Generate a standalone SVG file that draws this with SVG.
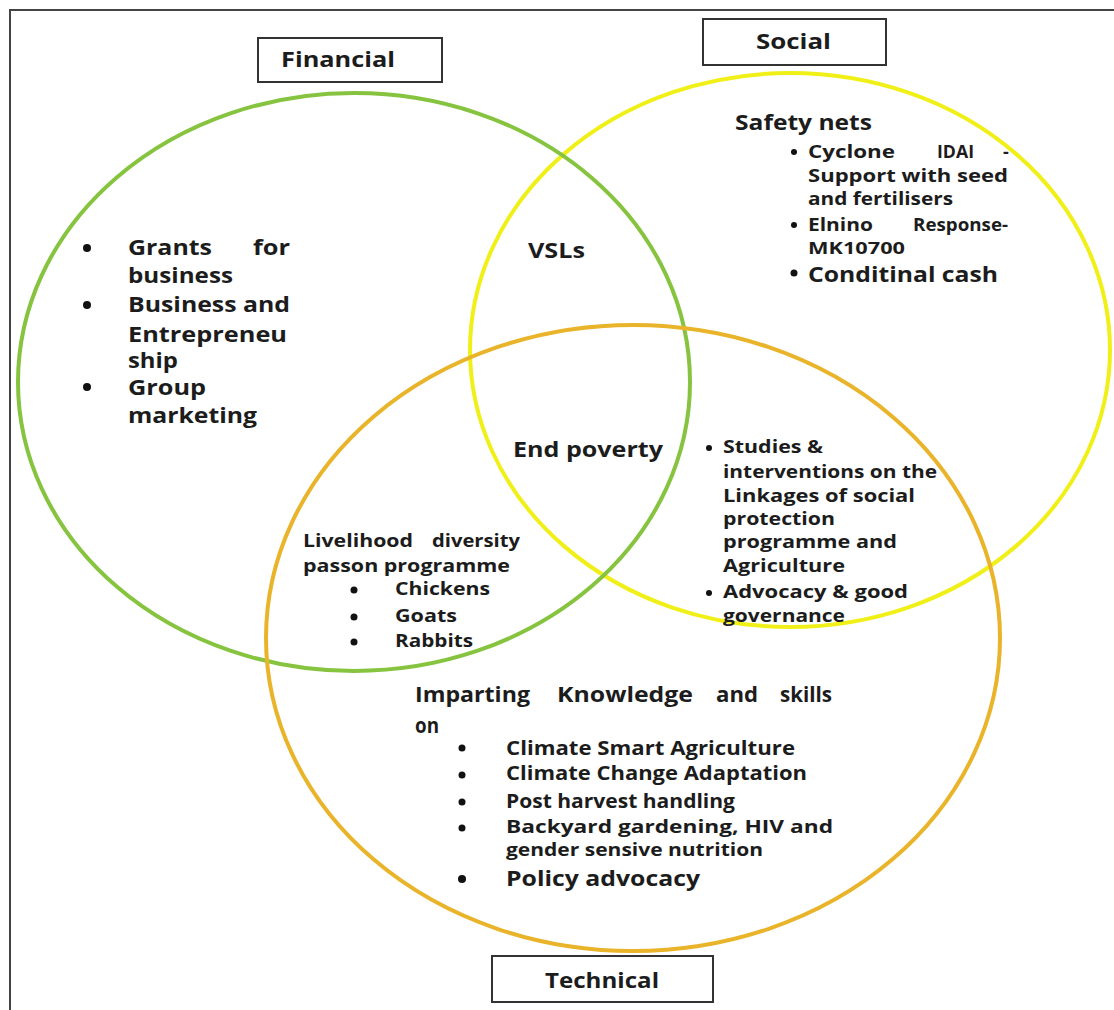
<svg xmlns="http://www.w3.org/2000/svg" width="1114" height="1010" viewBox="0 0 1114 1010">
<style>
.t{font-family:"Open Sans",Lato,"Liberation Sans",sans-serif;font-weight:bold;fill:#1c1c1c}
.b{fill:#111}
.s16{font-size:16px}
.s17{font-size:17px}
.s18{font-size:18px}
.s19{font-size:19px}
.s21{font-size:21px}
.s22{font-size:22px}
.ring{fill:none;stroke-width:4}
.box{fill:#fff;stroke:#333;stroke-width:2}
</style>
<rect x="0" y="0" width="1114" height="1010" fill="#fff"/>
<rect x="10" y="10" width="1110" height="1010" fill="none" stroke="#444" stroke-width="2"/>

<g id="connectors"/>

<g id="social-circle">
<ellipse class="ring" cx="790" cy="350" rx="320" ry="277" stroke="#f0f018"/>
</g>
<g id="financial-circle">
<ellipse class="ring" cx="354" cy="382" rx="336" ry="289" stroke="#86c440"/>
</g>
<g id="technical-circle">
<ellipse class="ring" cx="633" cy="638" rx="367" ry="313" stroke="#eab42a"/>
</g>

<g id="financial-label">
<rect class="box" x="258" y="38" width="184" height="44"/>
<text class="t s21" x="281" y="67" textLength="114" lengthAdjust="spacingAndGlyphs">Financial</text>
</g>
<g id="social-label">
<rect class="box" x="703" y="19" width="183" height="46"/>
<text class="t s21" x="756" y="49" textLength="75" lengthAdjust="spacingAndGlyphs">Social</text>
</g>
<g id="technical-label">
<rect class="box" x="492" y="956" width="221" height="46"/>
<text class="t s21" x="545" y="988" textLength="114" lengthAdjust="spacingAndGlyphs">Technical</text>
</g>

<g id="financial-items">
<circle class="b" cx="87" cy="248" r="4"/>
<text class="t s21" x="128" y="255" textLength="84" lengthAdjust="spacingAndGlyphs">Grants</text>
<text class="t s21" x="253" y="255" textLength="37" lengthAdjust="spacingAndGlyphs">for</text>
<text class="t s21" x="128" y="283" textLength="105" lengthAdjust="spacingAndGlyphs">business</text>
<circle class="b" cx="87" cy="305" r="4"/>
<text class="t s21" x="128" y="312" textLength="162" lengthAdjust="spacingAndGlyphs">Business and</text>
<text class="t s21" x="128" y="342" textLength="159" lengthAdjust="spacingAndGlyphs">Entrepreneu</text>
<text class="t s21" x="128" y="368" textLength="50" lengthAdjust="spacingAndGlyphs">ship</text>
<circle class="b" cx="87" cy="387" r="4"/>
<text class="t s21" x="128" y="395" textLength="78" lengthAdjust="spacingAndGlyphs">Group</text>
<text class="t s21" x="128" y="423" textLength="129" lengthAdjust="spacingAndGlyphs">marketing</text>
</g>

<g id="social-items">
<text class="t s22" x="735" y="130" textLength="137" lengthAdjust="spacingAndGlyphs">Safety nets</text>
<circle class="b" cx="794" cy="152" r="3"/>
<text class="t s18" x="808" y="158" textLength="87" lengthAdjust="spacingAndGlyphs">Cyclone</text>
<text class="t s18" x="937" y="158" textLength="37" lengthAdjust="spacingAndGlyphs">IDAI</text>
<text class="t s18" x="1003" y="158">-</text>
<text class="t s18" x="808" y="182" textLength="200" lengthAdjust="spacingAndGlyphs">Support with seed</text>
<text class="t s18" x="808" y="205" textLength="145" lengthAdjust="spacingAndGlyphs">and fertilisers</text>
<circle class="b" cx="794" cy="225" r="3"/>
<text class="t s17" x="808" y="231" textLength="65" lengthAdjust="spacingAndGlyphs">Elnino</text>
<text class="t s17" x="913" y="231" textLength="95" lengthAdjust="spacingAndGlyphs">Response-</text>
<text class="t s16" x="808" y="254" textLength="97" lengthAdjust="spacingAndGlyphs">MK10700</text>
<circle class="b" cx="794" cy="273" r="3.5"/>
<text class="t s21" x="808" y="282" textLength="190" lengthAdjust="spacingAndGlyphs">Conditinal cash</text>
</g>

<g id="vsls">
<text class="t s21" x="528" y="258" textLength="57" lengthAdjust="spacingAndGlyphs">VSLs</text>
</g>

<g id="end-poverty">
<text class="t s22" x="513" y="457" textLength="150" lengthAdjust="spacingAndGlyphs">End poverty</text>
</g>

<g id="social-technical-items">
<circle class="b" cx="709" cy="448" r="3"/>
<text class="t s18" x="723" y="453" textLength="100" lengthAdjust="spacingAndGlyphs">Studies &amp;</text>
<text class="t s18" x="723" y="478" textLength="214" lengthAdjust="spacingAndGlyphs">interventions on the</text>
<text class="t s18" x="723" y="502" textLength="192" lengthAdjust="spacingAndGlyphs">Linkages  of social</text>
<text class="t s18" x="723" y="525" textLength="112" lengthAdjust="spacingAndGlyphs">protection</text>
<text class="t s18" x="723" y="548" textLength="174" lengthAdjust="spacingAndGlyphs">programme and</text>
<text class="t s18" x="723" y="572" textLength="122" lengthAdjust="spacingAndGlyphs">Agriculture</text>
<circle class="b" cx="709" cy="593" r="3"/>
<text class="t s18" x="723" y="598" textLength="185" lengthAdjust="spacingAndGlyphs">Advocacy &amp; good</text>
<text class="t s18" x="723" y="622" textLength="122" lengthAdjust="spacingAndGlyphs">governance</text>
</g>

<g id="livelihood">
<text class="t s18" x="303" y="547" textLength="110" lengthAdjust="spacingAndGlyphs">Livelihood</text>
<text class="t s18" x="432" y="547" textLength="88" lengthAdjust="spacingAndGlyphs">diversity</text>
<text class="t s18" x="303" y="572" textLength="207" lengthAdjust="spacingAndGlyphs">passon programme</text>
<circle class="b" cx="354" cy="590" r="3.5"/>
<text class="t s18" x="395" y="595" textLength="95" lengthAdjust="spacingAndGlyphs">Chickens</text>
<circle class="b" cx="354" cy="617" r="3.5"/>
<text class="t s18" x="395" y="622" textLength="62" lengthAdjust="spacingAndGlyphs">Goats</text>
<circle class="b" cx="354" cy="642" r="3.5"/>
<text class="t s18" x="395" y="647" textLength="78" lengthAdjust="spacingAndGlyphs">Rabbits</text>
</g>

<g id="technical-items">
<text class="t s21" x="415" y="702" textLength="115" lengthAdjust="spacingAndGlyphs">Imparting</text>
<text class="t s21" x="557" y="702" textLength="136" lengthAdjust="spacingAndGlyphs">Knowledge</text>
<text class="t s21" x="716" y="702" textLength="42" lengthAdjust="spacingAndGlyphs">and</text>
<text class="t s21" x="780" y="702" textLength="52" lengthAdjust="spacingAndGlyphs">skills</text>
<text class="t s21" x="415" y="733" textLength="24" lengthAdjust="spacingAndGlyphs">on</text>
<circle class="b" cx="462" cy="748" r="3.5"/>
<text class="t s19" x="506" y="755" textLength="289" lengthAdjust="spacingAndGlyphs">Climate Smart Agriculture</text>
<circle class="b" cx="462" cy="775" r="3.5"/>
<text class="t s19" x="506" y="780" textLength="301" lengthAdjust="spacingAndGlyphs">Climate Change Adaptation</text>
<circle class="b" cx="462" cy="802" r="3.5"/>
<text class="t s19" x="506" y="808" textLength="229" lengthAdjust="spacingAndGlyphs">Post harvest handling</text>
<circle class="b" cx="462" cy="828" r="3.5"/>
<text class="t s17" x="506" y="833" textLength="327" lengthAdjust="spacingAndGlyphs">Backyard  gardening, HIV  and</text>
<text class="t s17" x="506" y="856" textLength="257" lengthAdjust="spacingAndGlyphs">gender sensive nutrition</text>
<circle class="b" cx="462" cy="879" r="4"/>
<text class="t s22" x="506" y="886" textLength="194" lengthAdjust="spacingAndGlyphs">Policy advocacy</text>
</g>
</svg>
